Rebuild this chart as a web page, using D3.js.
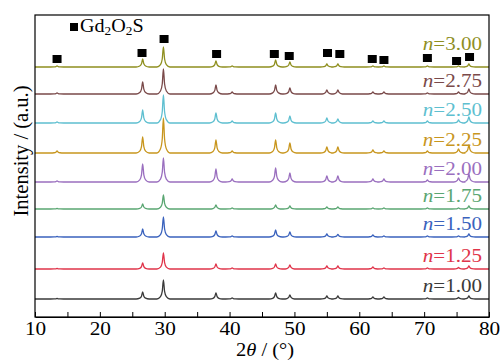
<!DOCTYPE html>
<html>
<head>
<meta charset="utf-8">
<script src="https://cdn.jsdelivr.net/npm/d3@7"></script>
<style>
  body { margin: 0; background: #fff; }
  svg text { font-family: "Liberation Serif", "Times New Roman", serif !important; }
</style>
</head>
<body>
<div id="chart"></div>
<script>
// Gd2O2S reflection positions (2theta, deg)
const peaks = [13.4, 26.6, 29.8, 37.9, 40.4, 47.1, 49.3, 55.0, 56.7, 62.1, 63.8, 70.5, 75.3, 76.9];

// series labels, bottom to top
const ratios = ['1.00', '1.25', '1.50', '1.75', '2.00', '2.25', '2.50', '2.75', '3.00'];
const colors = ['#3a3a3a', '#e0344a', '#3a62bd', '#5aa672', '#9a6fbf', '#c8961e', '#5ebfd0', '#7a4a4a', '#8f8f1f'];
// vertical offset of each pattern (a.u.)
const offsets = [18, 48, 80, 108, 135, 164, 194, 223, 250];

// peak heights per series, same order as peaks
const h100 = [0.5, 7, 19, 6, 1, 6, 4, 3, 3, 2, 2, 1, 1.5, 3];
const h125 = [0.5, 6, 16, 5, 1, 5, 4, 3, 3, 2, 1, 1, 1.5, 3];
const h150 = [0.5, 8, 20, 6, 1, 7, 5, 3, 2.5, 2, 1, 1, 1, 3];
const h175 = [0.5, 5, 14, 4, 1, 4, 3, 2, 2, 1, 1, 1, 1, 3];
const h200 = [1, 18, 24, 13, 3, 14, 9, 6, 6, 3, 3, 2, 4, 8];
const h225 = [2, 16, 35, 13, 2, 13, 10, 6, 6, 3, 2, 2, 4, 8];
const h250 = [1, 13, 28, 10, 2, 10, 7, 5, 4, 2, 2, 2, 3, 6];
const h275 = [1, 12, 25, 9, 2, 9, 6, 4, 4, 2, 2, 1, 2, 5];
const h300 = [1, 8, 20, 6, 1, 7, 5, 3, 3, 1, 1, 1, 1, 3];
const heights = [h100, h125, h150, h175, h200, h225, h250, h275, h300];

// marker squares above the top pattern (2theta, a.u.)
const markX = [13.4, 26.5, 29.9, 38.0, 46.9, 49.2, 55.1, 57.0, 62.0, 63.8, 70.5, 75.0, 77.0];
const markY = [258, 264, 278, 263, 263, 261, 264, 263, 258, 257, 259, 256, 260];

const xTicks = [10, 20, 30, 40, 50, 60, 70, 80];

const W = 501, H = 363;
const margin = { top: 15, right: 12, bottom: 46, left: 35 };
const serif = 'Liberation Serif';

const svg = d3.select('#chart').append('svg')
  .attr('width', W).attr('height', H);

const x = d3.scaleLinear().domain([10, 80]).range([margin.left, W - margin.right]);
const y = d3.scaleLinear().domain([0, 302]).range([H - margin.bottom, margin.top]);

// build a pattern as polyline through baseline and peak vertices
function pattern(hs, off) {
  const pts = [[10, off]];
  peaks.forEach((p, i) => {
    const h = hs[i];
    pts.push([p - 1.0, off]);
    pts.push([p - 0.45, off + h * 0.12]);
    pts.push([p - 0.18, off + h * 0.4]);
    pts.push([p, off + h]);
    pts.push([p + 0.18, off + h * 0.4]);
    pts.push([p + 0.45, off + h * 0.12]);
    pts.push([p + 1.0, off]);
  });
  pts.push([80, off]);
  return pts;
}

const line = d3.line().x(d => x(d[0])).y(d => y(d[1])).curve(d3.curveMonotoneX);

const g = svg.append('g');
ratios.forEach((r, i) => {
  g.append('path')
    .attr('d', line(pattern(heights[i], offsets[i])))
    .attr('fill', 'none')
    .attr('stroke', colors[i])
    .attr('stroke-width', 1.3)
    .attr('stroke-linejoin', 'round');

  const lift = i === ratios.length - 1 ? 17 : 7;
  const t = g.append('text')
    .attr('transform', `translate(482,${y(offsets[i]) - lift}) scale(1.08,1)`)
    .attr('text-anchor', 'end')
    .attr('fill', colors[i])
    .attr('font-family', serif)
    .style('font-size', '19.5px');
  t.append('tspan').style('font-style', 'italic').text('n');
  t.append('tspan').text('=' + r);
});

// markers
svg.selectAll('rect.mark').data(markX).enter().append('rect')
  .attr('class', 'mark')
  .attr('x', d => x(d) - 4.5)
  .attr('y', (d, i) => y(markY[i]) - 4)
  .attr('width', 9).attr('height', 8)
  .attr('fill', '#000');

// legend
svg.append('rect').attr('x', 70).attr('y', 23).attr('width', 8).attr('height', 8).attr('fill', '#000');
const lg = svg.append('text').attr('transform', 'translate(80,32) scale(1.06,1)')
  .attr('font-family', serif).style('font-size', '19px').attr('fill', '#000');
lg.append('tspan').text('Gd');
lg.append('tspan').style('font-size', '12.5px').attr('dy', 3).text('2');
lg.append('tspan').attr('dy', -3).text('O');
lg.append('tspan').style('font-size', '12.5px').attr('dy', 3).text('2');
lg.append('tspan').attr('dy', -3).text('S');

// frame
svg.append('rect')
  .attr('x', margin.left).attr('y', margin.top)
  .attr('width', W - margin.left - margin.right)
  .attr('height', H - margin.bottom - margin.top)
  .attr('fill', 'none').attr('stroke', '#000').attr('stroke-width', 1.2);

// x axis
const xAxis = d3.axisBottom(x)
  .tickValues(d3.range(10, 81, 5))
  .tickSizeInner(-5).tickSizeOuter(0)
  .tickFormat(d => xTicks.includes(d) ? d : '');
const ax = svg.append('g')
  .attr('transform', `translate(0,${H - margin.bottom})`)
  .call(xAxis);
ax.attr('font-family', serif).attr('font-size', 18.5);
ax.select('.domain').attr('stroke', '#000').attr('stroke-width', 1.2);
ax.selectAll('.tick line').attr('stroke', '#000');
ax.selectAll('.tick text')
  .attr('y', 0).attr('dy', 0)
  .attr('transform', 'translate(0,18) scale(1.15,1)')
  .attr('font-family', serif)
  .style('font-size', '18.5px')
  .attr('fill', '#000');

// axis titles
const xt = svg.append('text')
  .attr('transform', 'translate(265,356) scale(1.14,1)')
  .attr('text-anchor', 'middle')
  .attr('font-family', serif)
  .style('font-size', '18px');
xt.append('tspan').text('2');
xt.append('tspan').style('font-style', 'italic').text('θ');
xt.append('tspan').text(' / (°)');

svg.append('text')
  .attr('transform', 'translate(28,151) rotate(-90)')
  .attr('text-anchor', 'middle')
  .attr('font-family', serif)
  .style('font-size', '20.5px')
  .text('Intensity / (a.u.)');
</script>
</body>
</html>
